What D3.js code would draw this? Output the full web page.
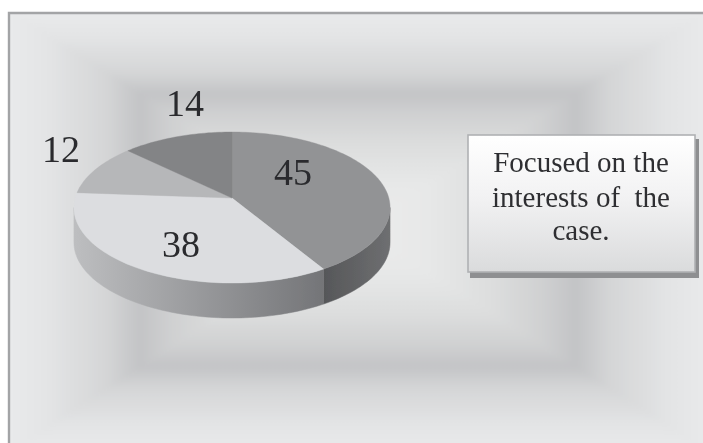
<!DOCTYPE html>
<html>
<head>
<meta charset="utf-8">
<script src="https://cdn.jsdelivr.net/npm/d3@7"></script>
<style>
html,body{margin:0;padding:0;background:#fff;overflow:hidden}
svg{display:block}
</style>
</head>
<body>
<svg id="chart" width="703" height="443"></svg>
<script>
// ---- data ----
const sliceValues = [45, 38, 12, 14];
const sliceLabels = ["45", "38", "12", "14"];
const sliceColors = ["#929395", "#dcdde0", "#b6b7b9", "#838486"];
const noteLines = ["Focused on the", "interests of  the", "case."];

// ---- appearance ----
const W = 703, H = 443;
const frame = {x: 8, y: 12};
const focus = {x: 355, y: 228};
const backdropStops = [
  [0, "#e9eaeb"], [0.12, "#e3e4e5"], [0.28, "#d5d6d7"], [0.38, "#c3c4c6"],
  [0.47, "#cfd0d1"], [0.62, "#dddede"], [0.8, "#e7e8e8"], [1, "#ececec"]
];
const labelAnchors = [[293, 185], [181, 257], [61, 162], [185, 116]];
const pieGeom = {cx: 232, cy: 198, R: 156.8, up: 74.3, k: 0.126, depth: 35};
const note = {x: 468, y: 135, w: 227, h: 137, cx: 581, baselines: [172, 207, 240]};

const svg = d3.select("#chart");
const defs = svg.append("defs");
defs.append("filter").attr("id", "soft")
  .attr("x", "-5%").attr("y", "-5%").attr("width", "110%").attr("height", "110%")
  .append("feGaussianBlur").attr("stdDeviation", 0.55);
defs.append("filter").attr("id", "softer")
  .attr("filterUnits", "userSpaceOnUse").attr("x", -20).attr("y", -20).attr("width", W + 60).attr("height", H + 60)
  .append("feGaussianBlur").attr("stdDeviation", 3);
defs.append("clipPath").attr("id", "frameClip").append("rect")
  .attr("x", frame.x).attr("y", frame.y).attr("width", W).attr("height", H);

function linear(id, x1, y1, x2, y2, stops) {
  const g = defs.append("linearGradient").attr("id", id).attr("gradientUnits", "userSpaceOnUse")
    .attr("x1", x1).attr("y1", y1).attr("x2", x2).attr("y2", y2);
  stops.forEach(s => g.append("stop").attr("offset", s[0]).attr("stop-color", s[1]));
}

// ---- backdrop: rectangular path gradient, one trapezoid per side ----
svg.append("rect").attr("width", W).attr("height", H).attr("fill", "#fff");
const xR = W + 8, yB = H + 8, out = 12;
const sides = [
  {id: "bgL", g: [frame.x, 0, focus.x, 0], p: [[frame.x - out, frame.y - out], [focus.x, focus.y], [frame.x - out, yB + out]]},
  {id: "bgR", g: [xR, 0, focus.x, 0], p: [[xR + out, frame.y - out], [focus.x, focus.y], [xR + out, yB + out]]},
  {id: "bgT", g: [0, frame.y, 0, focus.y], p: [[frame.x - out, frame.y - out], [xR + out, frame.y - out], [focus.x, focus.y]]},
  {id: "bgB", g: [0, yB, 0, focus.y], p: [[frame.x - out, yB + out], [xR + out, yB + out], [focus.x, focus.y]]}
];
const bg = svg.append("g").attr("clip-path", "url(#frameClip)").append("g").attr("filter", "url(#softer)");
sides.forEach(s => {
  linear(s.id, s.g[0], s.g[1], s.g[2], s.g[3], backdropStops);
  bg.append("path").attr("d", d3.line()(s.p) + "Z").attr("fill", `url(#${s.id})`)
    .attr("stroke", `url(#${s.id})`).attr("stroke-width", 1);
});
// frame line on top and left
svg.append("path").attr("d", d3.line()([[frame.x + 1, H + 2], [frame.x + 1, frame.y + 1], [W + 2, frame.y + 1]]))
  .attr("fill", "none").attr("stroke", "#a3a4a6").attr("stroke-width", 2.4);

// ---- pie: perspective projection of a circle ----
const sx = d3.scaleLinear().domain([-1, 1]).range([pieGeom.cx - pieGeom.R, pieGeom.cx + pieGeom.R]);
const sy = d3.scaleLinear().domain([-1, 1]).range([pieGeom.cy - pieGeom.up, pieGeom.cy + pieGeom.up]);
function rim(theta, drop = 0) {
  const x = Math.sin(theta), y = -Math.cos(theta), w = 1 - pieGeom.k * y;
  return [sx(x / w), sy(y / w) + drop];
}
function rimPoints(a0, a1, drop = 0) {
  const n = Math.max(2, Math.ceil((a1 - a0) * 40));
  return d3.range(n + 1).map(i => rim(a0 + (a1 - a0) * i / n, drop));
}
const arcs = d3.pie().sort(null).value(d => d)(sliceValues);
const pieG = svg.append("g").attr("filter", "url(#soft)");

// visible part of the side wall lies between the two silhouette angles
const visA = Math.acos(-pieGeom.k), visB = 2 * Math.PI - visA;
const wallGradients = [
  [[0, "#565759"], [1, "#6e6f71"]],
  [[0, "#bdbec0"], [1, "#747578"]]
];
arcs.slice(0, 2).forEach((a, i) => {
  const a0 = Math.max(a.startAngle, visA), a1 = Math.min(a.endAngle, visB);
  const top = rimPoints(a0, a1), bottom = rimPoints(a0, a1, pieGeom.depth).reverse();
  const xs = d3.extent(top, p => p[0]);
  const stops = i === 0 ? wallGradients[0] : wallGradients[1];
  linear("wall" + i, xs[0], 0, xs[1], 0, stops);
  pieG.append("path").attr("d", d3.line()(top.concat(bottom)) + "Z")
    .attr("fill", `url(#wall${i})`).attr("stroke", `url(#wall${i})`).attr("stroke-width", 0.5);
});
pieG.selectAll("path.slice").data(arcs).join("path").attr("class", "slice")
  .attr("d", a => d3.line()([[pieGeom.cx, pieGeom.cy]].concat(rimPoints(a.startAngle, a.endAngle))) + "Z")
  .attr("fill", (a, i) => sliceColors[i])
  .attr("stroke", (a, i) => sliceColors[i]).attr("stroke-width", 0.4);

// ---- value labels ----
svg.append("g").attr("filter", "url(#soft)").selectAll("text").data(sliceLabels).join("text")
  .attr("x", (d, i) => labelAnchors[i][0]).attr("y", (d, i) => labelAnchors[i][1])
  .attr("text-anchor", "middle")
  .attr("font-family", "'Liberation Serif', serif").attr("font-size", 38)
  .attr("fill", "#2b2c2e").text(d => d);

// ---- note box ----
linear("noteFill", 0, note.y, 0, note.y + note.h, [[0, "#ffffff"], [0.45, "#f2f2f3"], [1, "#dadbdc"]]);
const noteG = svg.append("g").attr("filter", "url(#soft)");
noteG.append("rect").attr("x", note.x - 1 + 3).attr("y", note.y - 1 + 5)
  .attr("width", note.w + 2).attr("height", note.h + 2).attr("fill", "#8e8f91");
noteG.append("rect").attr("x", note.x).attr("y", note.y).attr("width", note.w).attr("height", note.h)
  .attr("fill", "url(#noteFill)").attr("stroke", "#b0b1b3").attr("stroke-width", 1.6);
noteG.selectAll("text").data(noteLines).join("text")
  .attr("x", note.cx).attr("y", (d, i) => note.baselines[i])
  .attr("text-anchor", "middle").style("white-space", "pre")
  .attr("font-family", "'Liberation Serif', serif").attr("font-size", 29)
  .attr("fill", "#2e2f31").text(d => d);
</script>
</body>
</html>
